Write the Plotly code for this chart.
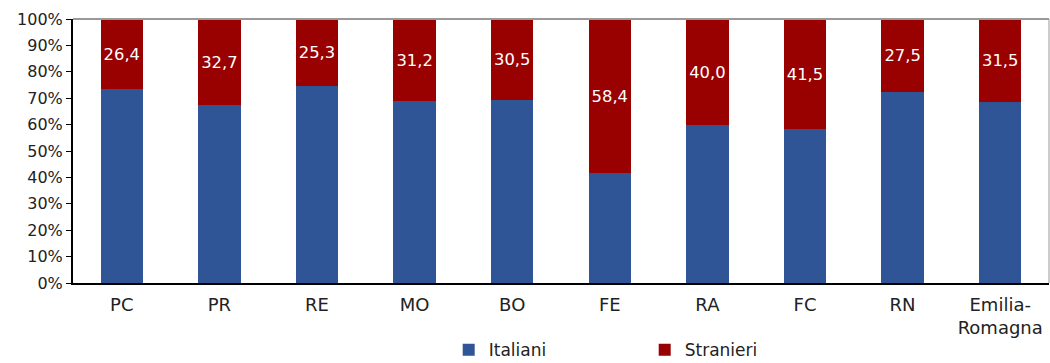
import plotly.graph_objects as go

categories = ["PC", "PR", "RE", "MO", "BO", "FE", "RA", "FC", "RN", "Emilia-<br>Romagna"]
stranieri = [26.4, 32.7, 25.3, 31.2, 30.5, 58.4, 40.0, 41.5, 27.5, 31.5]
italiani = [round(100 - s, 1) for s in stranieri]
stranieri_labels = [f"{s:.1f}".replace(".", ",") for s in stranieri]

FONT = "DejaVu Sans"
BLUE = "#2F5597"
RED = "#990000"
TXT = "#222222"

fig = go.Figure()
fig.add_trace(go.Bar(
    x=categories, y=italiani, name="Italiani",
    marker=dict(color=BLUE, line=dict(width=0)),
    hoverinfo="skip",
))
fig.add_trace(go.Bar(
    x=categories, y=stranieri, name="Stranieri",
    marker=dict(color=RED, line=dict(width=0)),
    text=stranieri_labels, textposition="inside", insidetextanchor="middle",
    textfont=dict(family=FONT, size=18, color="white"),
    textangle=0, hoverinfo="skip",
))

fig.update_layout(
    barmode="stack",
    bargap=0.565,
    width=1050, height=363,
    margin=dict(l=73, r=1, t=19, b=80),
    plot_bgcolor="white", paper_bgcolor="white",
    font=dict(family=FONT, size=15, color=TXT),
    uniformtext=dict(mode=False),
    legend=dict(
        orientation="h", traceorder="normal",
        x=0.614, xanchor="center", xref="container",
        y=0.035, yanchor="middle", yref="container",
        font=dict(family=FONT, size=17, color=TXT),
        entrywidth=151, itemwidth=30,
    ),
    shapes=[dict(type="line", xref="paper", yref="paper", x0=0, x1=1, y0=1, y1=1,
                 line=dict(color="#999999", width=2)),
            dict(type="line", xref="paper", yref="paper", x0=1, x1=1, y0=0, y1=1,
                 line=dict(color="#999999", width=1))],
)
fig.update_xaxes(
    showline=True, linecolor="black", linewidth=2, ticks="",
    tickfont=dict(family=FONT, size=18, color=TXT),
    ticklabelstandoff=4,
    showgrid=False, automargin=False,
)
fig.update_yaxes(
    range=[0, 100], dtick=10, ticksuffix="%",
    showline=True, linecolor="black", linewidth=2,
    ticks="outside", ticklen=5, tickcolor="black", tickwidth=1,
    tickfont=dict(family=FONT, size=16, color=TXT),
    showgrid=False, zeroline=False, automargin=False,
)

fig.write_html("out.html")
